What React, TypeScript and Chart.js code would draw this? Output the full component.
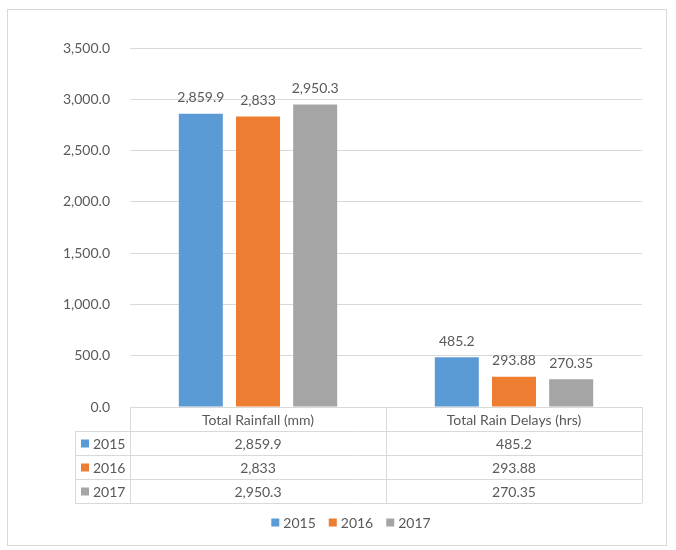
import React, { useEffect, useRef } from "react";
import { Chart, registerables } from "chart.js";
Chart.register(...registerables);

const categories = ["Total Rainfall (mm)", "Total Rain Delays (hrs)"];
const years = ["2015", "2016", "2017"];
const values2015 = [2859.9, 485.2];
const values2016 = [2833, 293.88];
const values2017 = [2950.3, 270.35];
const yMin = 0;
const yMax = 3500;
const yStep = 500;
const colors = ["#5B9BD5", "#ED7D31", "#A5A5A5"];

const FONT = "Lato, 'Open Sans', sans-serif";
const TEXT = "#595959";
const LINE = "#D9D9D9";

const fmtVal = (v: number) => v.toLocaleString("en-US", { maximumFractionDigits: 2 });
const fmtTick = (v: number) =>
  v.toLocaleString("en-US", { minimumFractionDigits: 1, maximumFractionDigits: 1 });

const series = [values2015, values2016, values2017];

const extrasPlugin = {
  id: "extras",
  afterDraw(chart: any) {
    const ctx = chart.ctx as CanvasRenderingContext2D;
    const area = chart.chartArea;
    const xs = chart.scales.x;
    ctx.save();
    ctx.font = `14px ${FONT}`;
    ctx.fillStyle = TEXT;
    ctx.textAlign = "center";
    ctx.textBaseline = "middle";
    // data labels
    chart.data.datasets.forEach((ds: any, di: number) => {
      const meta = chart.getDatasetMeta(di);
      meta.data.forEach((bar: any, i: number) => {
        ctx.fillText(fmtVal(ds.data[i]), bar.x, bar.y - 16);
      });
    });
    // data table
    const rowH = 24;
    const top = area.bottom;
    const keyLeft = area.left - 55;
    const mid = (area.left + area.right) / 2;
    ctx.strokeStyle = LINE;
    ctx.lineWidth = 1;
    const hline = (y: number, x1: number, x2: number) => {
      ctx.beginPath();
      ctx.moveTo(x1, Math.round(y) + 0.5);
      ctx.lineTo(x2, Math.round(y) + 0.5);
      ctx.stroke();
    };
    const vline = (x: number, y1: number, y2: number) => {
      ctx.beginPath();
      ctx.moveTo(Math.round(x) + 0.5, y1);
      ctx.lineTo(Math.round(x) + 0.5, y2);
      ctx.stroke();
    };
    const bottom = top + rowH * (years.length + 1);
    for (let r = 1; r <= years.length + 1; r++) {
      hline(top + rowH * r, keyLeft, area.right);
    }
    vline(area.left, top, bottom);
    vline(mid, top, bottom);
    vline(area.right, top, bottom);
    vline(keyLeft, top + rowH, bottom);
    // header
    categories.forEach((c, i) => {
      ctx.fillText(c, xs.getPixelForValue(i), top + rowH / 2 + 1);
    });
    years.forEach((y, r) => {
      const cy = top + rowH * (r + 1) + rowH / 2 + 1;
      ctx.fillStyle = colors[r];
      ctx.fillRect(keyLeft + 6, cy - 4.5, 8, 8);
      ctx.fillStyle = TEXT;
      ctx.textAlign = "left";
      ctx.fillText(y, keyLeft + 18, cy);
      ctx.textAlign = "center";
      series[r].forEach((v, i) => {
        ctx.fillText(fmtVal(v), xs.getPixelForValue(i), cy);
      });
    });
    // legend
    const ly = bottom + 20;
    ctx.textAlign = "left";
    const itemWidths = years.map((y) => 12 + ctx.measureText(y).width);
    const gap = 13;
    const total = itemWidths.reduce((a, b) => a + b, 0) + gap * (years.length - 1);
    let lx = chart.width / 2 - total / 2 + 14;
    years.forEach((y, r) => {
      ctx.fillStyle = colors[r];
      ctx.fillRect(lx, ly - 4.5, 8, 8);
      ctx.fillStyle = TEXT;
      ctx.fillText(y, lx + 12, ly);
      lx += itemWidths[r] + gap;
    });
    ctx.restore();
  },
};

export default function App() {
  const ref = useRef<HTMLCanvasElement>(null);
  useEffect(() => {
    if (!ref.current) return;
    const chart = new Chart(ref.current, {
      type: "bar",
      data: {
        labels: categories,
        datasets: years.map((y, i) => ({
          label: y,
          data: series[i],
          backgroundColor: colors[i],
          categoryPercentage: 0.67,
          barPercentage: 0.77,
        })),
      },
      options: {
        responsive: false,
        animation: false,
        layout: { padding: { left: 0, right: 24, top: 38, bottom: 138 } },
        plugins: {
          legend: { display: false },
          tooltip: { enabled: false },
        },
        scales: {
          x: { display: false },
          y: {
            min: yMin,
            max: yMax,
            ticks: {
              stepSize: yStep,
              padding: 20,
              color: TEXT,
              font: { family: FONT, size: 14 },
              callback: (v: any) => fmtTick(Number(v)),
            },
            grid: { color: LINE, drawTicks: false },
            border: { display: false },
            afterFit: (s: any) => {
              s.width = 122;
            },
          },
        },
      },
      plugins: [extrasPlugin],
    });
    return () => chart.destroy();
  }, []);
  return (
    <div
      style={{
        position: "absolute",
        left: 7,
        top: 9,
        width: 658,
        height: 535,
        border: "1px solid #D9D9D9",
        background: "#fff",
      }}
    >
      <canvas ref={ref} width={658} height={535} style={{ display: "block" }} />
    </div>
  );
}
